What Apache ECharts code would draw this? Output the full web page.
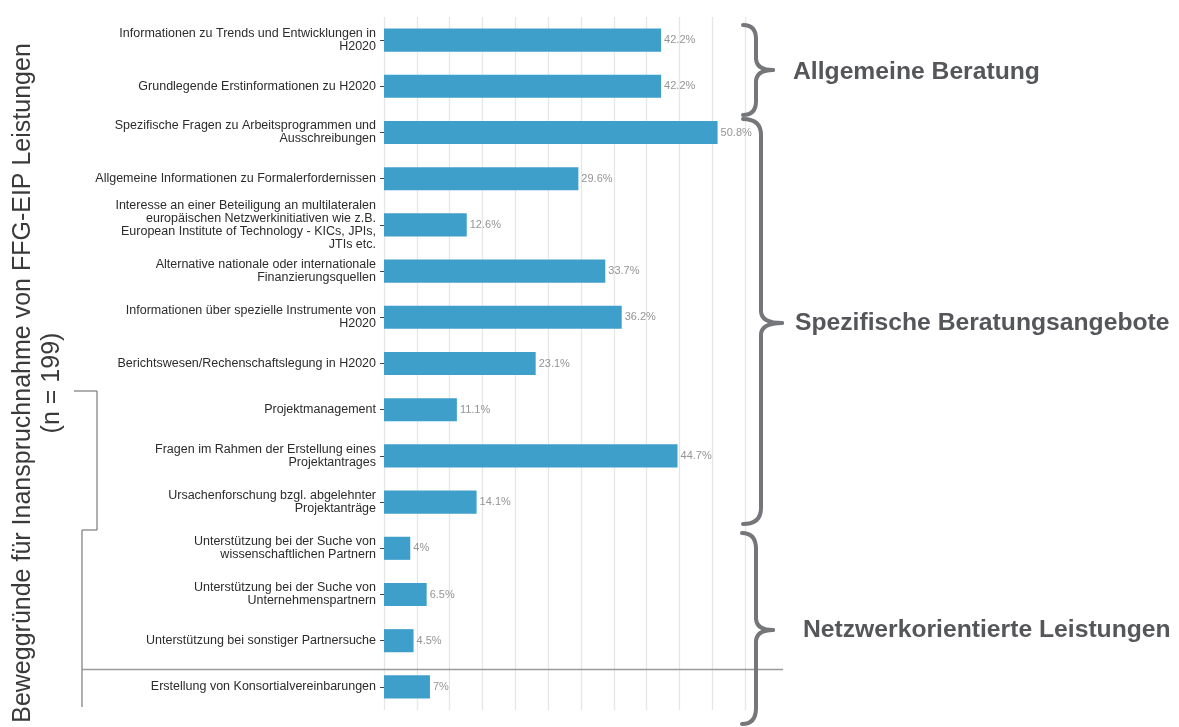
<!DOCTYPE html>
<html>
<head>
<meta charset="utf-8">
<script src="https://cdn.jsdelivr.net/npm/echarts@6/dist/echarts.min.js"></script>
<style>
html,body{margin:0;padding:0;background:#fff;}
#c{width:1179px;height:727px;}
</style>
</head>
<body>
<div id="c"></div>
<script>
const categories = [
  "Informationen zu Trends und Entwicklungen in\nH2020",
  "Grundlegende Erstinformationen zu H2020",
  "Spezifische Fragen zu Arbeitsprogrammen und\nAusschreibungen",
  "Allgemeine Informationen zu Formalerfordernissen",
  "Interesse an einer Beteiligung an multilateralen\neuropäischen Netzwerkinitiativen wie z.B.\nEuropean Institute of Technology - KICs, JPIs,\nJTIs etc.",
  "Alternative nationale oder internationale\nFinanzierungsquellen",
  "Informationen über spezielle Instrumente von\nH2020",
  "Berichtswesen/Rechenschaftslegung in H2020",
  "Projektmanagement",
  "Fragen im Rahmen der Erstellung eines\nProjektantrages",
  "Ursachenforschung bzgl. abgelehnter\nProjektanträge",
  "Unterstützung bei der Suche von\nwissenschaftlichen Partnern",
  "Unterstützung bei der Suche von\nUnternehmenspartnern",
  "Unterstützung bei sonstiger Partnersuche",
  "Erstellung von Konsortialvereinbarungen"
];
const values = [42.2, 42.2, 50.8, 29.6, 12.6, 33.7, 36.2, 23.1, 11.1, 44.7, 14.1, 4, 6.5, 4.5, 7];
const groupLabels = ["Allgemeine Beratung", "Spezifische Beratungsangebote", "Netzwerkorientierte Leistungen"];
const axisTitle = "Beweggründe für Inanspruchnahme von FFG-EIP Leistungen\n(n = 199)";

const FONT = "'Liberation Sans', Arial, sans-serif";
const braceColor = '#75767a';

function brace(x0, top, bottom, xv, xt, ymid, r, r2) {
  const st = {stroke: braceColor, lineWidth: 4, fill: null, lineCap: 'round'};
  return [
    {type:'bezierCurve', silent:true, z:10, shape:{x1:x0,y1:top,cpx1:xv,cpy1:top,x2:xv,y2:top+r}, style:st},
    {type:'line', silent:true, z:10, shape:{x1:xv,y1:top+r,x2:xv,y2:ymid-r2}, style:st},
    {type:'bezierCurve', silent:true, z:10, shape:{x1:xv,y1:ymid-r2,cpx1:xv,cpy1:ymid,x2:xt,y2:ymid}, style:st},
    {type:'bezierCurve', silent:true, z:10, shape:{x1:xt,y1:ymid,cpx1:xv,cpy1:ymid,x2:xv,y2:ymid+r2}, style:st},
    {type:'line', silent:true, z:10, shape:{x1:xv,y1:ymid+r2,x2:xv,y2:bottom-r}, style:st},
    {type:'bezierCurve', silent:true, z:10, shape:{x1:xv,y1:bottom-r,cpx1:xv,cpy1:bottom,x2:x0,y2:bottom}, style:st}
  ];
}

const deco = {stroke:'#7a7a7a', lineWidth:1.2};
const graphics = [].concat(
  brace(743, 25, 115, 756, 773, 70, 14, 12),
  brace(743, 119, 524, 761, 782, 323, 16, 12),
  brace(742, 533, 724, 756, 773, 630, 16, 12),
  [
    {type:'text', silent:true, left:793, top:60, style:{text:groupLabels[0], font:"bold 24.7px " + FONT, fill:'#555659'}},
    {type:'text', silent:true, left:795, top:311, style:{text:groupLabels[1], font:"bold 24.7px " + FONT, fill:'#555659'}},
    {type:'text', silent:true, left:803, top:618, style:{text:groupLabels[2], font:"bold 24.7px " + FONT, fill:'#555659'}},
    {type:'text', silent:true, x:37.5, y:383, rotation:Math.PI/2,
      style:{text:axisTitle, font:"25px " + FONT, fill:'#3a3a3a', align:'center', verticalAlign:'middle', lineHeight:29}},
    {type:'line', silent:true, shape:{x1:74,y1:391,x2:97,y2:391}, style:deco},
    {type:'line', silent:true, shape:{x1:97,y1:391,x2:97,y2:530}, style:deco},
    {type:'line', silent:true, shape:{x1:97,y1:530,x2:82,y2:530}, style:deco},
    {type:'line', silent:true, shape:{x1:82,y1:530,x2:82,y2:707}, style:deco},
    {type:'line', silent:true, z:5, shape:{x1:82,y1:669.5,x2:783,y2:669.5}, style:{stroke:'#9a9a9a', lineWidth:1.5}}
  ]
);

const chart = echarts.init(document.getElementById('c'));
chart.setOption({
  backgroundColor: '#ffffff',
  animation: false,
  textStyle: {fontFamily: FONT},
  grid: {left: 384, right: 401, top: 17, bottom: 17, containLabel: false},
  xAxis: {
    type: 'value', min: 0, max: 60, interval: 5,
    axisLine: {show: false}, axisTick: {show: false}, axisLabel: {show: false},
    splitLine: {show: true, showMaxLine: false, lineStyle: {color: '#e6e6e6', width: 1.3}}
  },
  yAxis: {
    type: 'category', inverse: true, data: categories,
    axisLine: {show: false},
    axisTick: {show: true, length: 4, alignWithLabel: true, lineStyle: {color: '#444', width: 1}},
    axisLabel: {interval: 0, color: '#2b2b2b', fontSize: 12.5, lineHeight: 13, margin: 8, fontFamily: FONT, align: 'right'}
  },
  series: [{
    type: 'bar', data: values, barWidth: '50%',
    itemStyle: {color: '#3f9fcb'},
    label: {show: true, position: 'right', distance: 3, formatter: '{c}%', color: '#949494', fontSize: 11, fontFamily: FONT}
  }],
  graphic: graphics
});
</script>
</body>
</html>
